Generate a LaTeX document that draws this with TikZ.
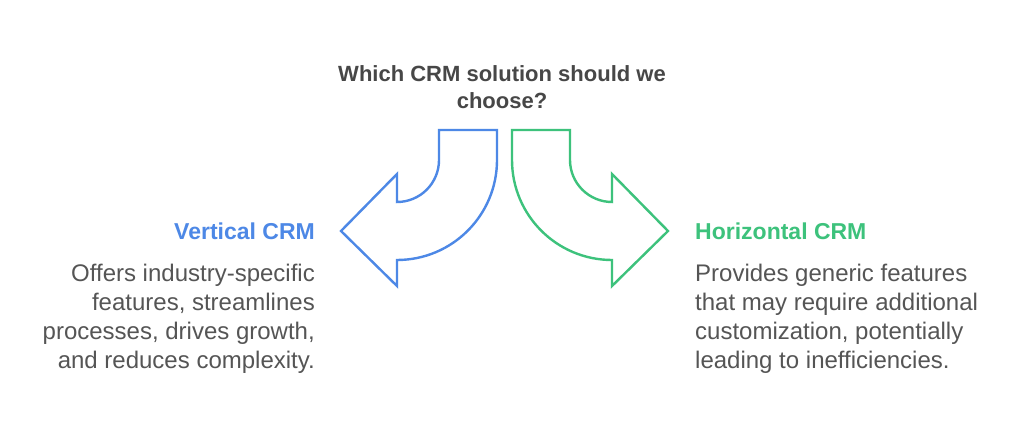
\documentclass[tikz,border=0pt]{standalone}
\usepackage{fontspec}
\setmainfont{Liberation Sans}
\definecolor{cblue}{HTML}{4D88E6}
\definecolor{cgreen}{HTML}{3DC27C}
\definecolor{ctitle}{HTML}{474747}
\definecolor{cbody}{HTML}{555555}
\begin{document}
\begin{tikzpicture}[x=1pt,y=1pt,
  arrowshape/.style={line width=2.4pt,line join=miter,fill=white},
  head/.style={inner sep=0pt,font=\fontsize{23}{27}\selectfont\bfseries},
  ttl/.style={inner sep=0pt,font=\fontsize{22}{27}\selectfont\bfseries},
  body/.style={inner sep=0pt,font=\fontsize{24}{29}\selectfont,text=cbody}]
\useasboundingbox (0,0) rectangle (1024,434);
\fill[white] (0,0) rectangle (1024,434);
% blue arrow
\draw[arrowshape,draw=cblue] (439,304) -- (497,304) -- (497,274)
  arc[start angle=0,end angle=-90,radius=100] -- (397,148) -- (341,203)
  -- (397,260) -- (397,232) arc[start angle=-90,end angle=0,radius=42] -- cycle;
% green arrow
\draw[arrowshape,draw=cgreen] (570,304) -- (512,304) -- (512,274)
  arc[start angle=180,end angle=270,radius=100] -- (612,148) -- (668,203)
  -- (612,260) -- (612,232) arc[start angle=270,end angle=180,radius=42] -- cycle;
% texts
\node[ttl,text=ctitle,align=center] (title) at (502,347) {Which CRM solution should we\\choose?};
\node[head,text=cblue,anchor=east] (vh) at (315,203) {Vertical CRM};
\node[body,anchor=north east,align=right] (vb) at (315,170) {Offers industry-specific\\features, streamlines\\processes, drives growth,\\and reduces complexity.};
\node[head,text=cgreen,anchor=west] (hh) at (695,203) {Horizontal CRM};
\node[body,anchor=north west,align=left] (hb) at (695,170) {Provides generic features\\that may require additional\\customization, potentially\\leading to inefficiencies.};
\end{tikzpicture}
\end{document}
